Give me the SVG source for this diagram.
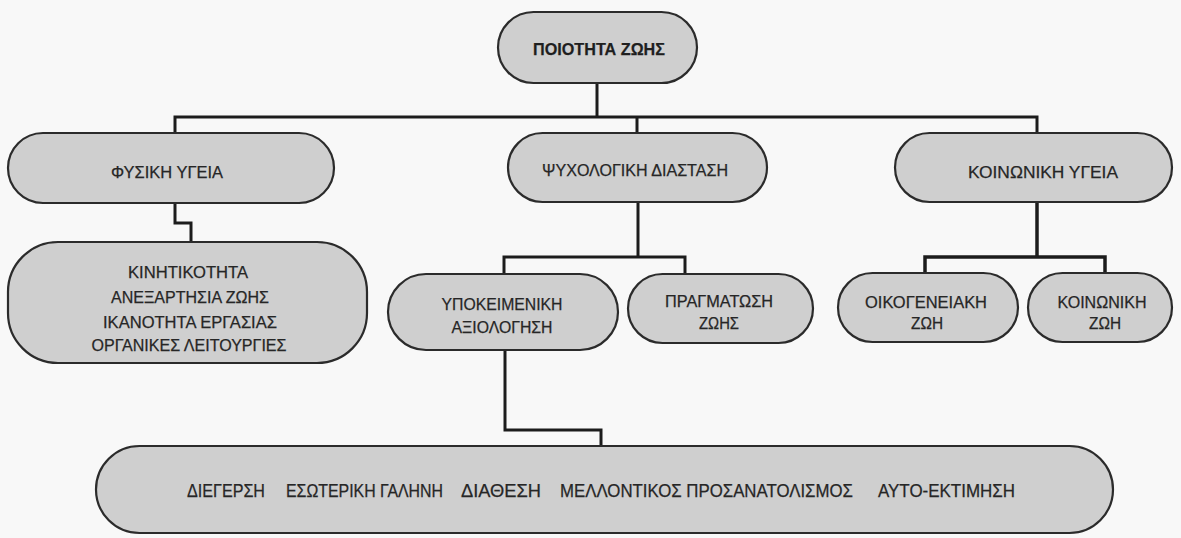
<svg xmlns="http://www.w3.org/2000/svg" width="1181" height="538" viewBox="0 0 1181 538">
<style>
.box{fill:#cfcfcf;stroke:#2b2b2b;stroke-width:2.2}
.t{font-family:"Liberation Sans",Arial,sans-serif;font-size:17px;fill:#262626;text-anchor:middle;stroke:#262626;stroke-width:0.25}
.b{font-weight:bold;fill:#1e1e1e}
.s{text-anchor:start;font-size:18px}
.c{fill:none;stroke:#1c1c1c;stroke-width:3;stroke-linejoin:miter;stroke-linecap:square}
</style>
<rect x="0" y="0" width="1181" height="538" fill="#f8f8f8"/>
<g id="connectors">
<path class="c" d="M597 83 V117 M175 117 H1037 M175 117 V133 M637 117 V133 M1037 117 V133"/>
<path class="c" d="M175 203 V223 H191 V242"/>
<path class="c" d="M638 202 V257 M504 257 H685 M504 257 V274 M685 257 V274"/>
<path class="c" d="M1037 202 V257 M925 257 H1105 M925 257 V273 M1105 257 V273" style="stroke-width:3.5"/>
<path class="c" d="M505 350 V430 H601 V446"/>
</g>
<g id="n-poiotita">
<rect class="box" x="498" y="12" width="199" height="71" rx="35.5"/>
<text class="t b" x="599" y="55" textLength="132" lengthAdjust="spacingAndGlyphs">ΠΟΙΟΤΗΤΑ ΖΩΗΣ</text>
</g>
<g id="n-fysiki">
<rect class="box" x="8" y="133" width="326" height="70" rx="35"/>
<text class="t" x="167" y="178" textLength="112" lengthAdjust="spacingAndGlyphs">ΦΥΣΙΚΗ ΥΓΕΙΑ</text>
</g>
<g id="n-psyx">
<rect class="box" x="508" y="133" width="259" height="69" rx="34.5"/>
<text class="t" x="635" y="176" textLength="186" lengthAdjust="spacingAndGlyphs">ΨΥΧΟΛΟΓΙΚΗ ΔΙΑΣΤΑΣΗ</text>
</g>
<g id="n-koin-ygeia">
<rect class="box" x="895" y="133" width="277" height="69" rx="34.5"/>
<text class="t" x="1043" y="178" textLength="150" lengthAdjust="spacingAndGlyphs">ΚΟΙΝΩΝΙΚΗ ΥΓΕΙΑ</text>
</g>
<g id="n-kinitikotita">
<rect class="box" x="8" y="242" width="359" height="121" rx="50"/>
<text class="t" x="188" y="278" textLength="120" lengthAdjust="spacingAndGlyphs">ΚΙΝΗΤΙΚΟΤΗΤΑ</text>
<text class="t" x="190" y="303" textLength="158" lengthAdjust="spacingAndGlyphs">ΑΝΕΞΑΡΤΗΣΙΑ ΖΩΗΣ</text>
<text class="t" x="190" y="328" textLength="174" lengthAdjust="spacingAndGlyphs">ΙΚΑΝΟΤΗΤΑ ΕΡΓΑΣΙΑΣ</text>
<text class="t" x="189" y="351" textLength="195" lengthAdjust="spacingAndGlyphs">ΟΡΓΑΝΙΚΕΣ ΛΕΙΤΟΥΡΓΙΕΣ</text>
</g>
<g id="n-ypokeimeniki">
<rect class="box" x="388" y="274" width="230" height="76" rx="38"/>
<text class="t" x="502" y="310" textLength="121" lengthAdjust="spacingAndGlyphs">ΥΠΟΚΕΙΜΕΝΙΚΗ</text>
<text class="t" x="502" y="333" textLength="101" lengthAdjust="spacingAndGlyphs">ΑΞΙΟΛΟΓΗΣΗ</text>
</g>
<g id="n-pragmatosi">
<rect class="box" x="628" y="274" width="185" height="69" rx="34.5"/>
<text class="t" x="719" y="307" textLength="108" lengthAdjust="spacingAndGlyphs">ΠΡΑΓΜΑΤΩΣΗ</text>
<text class="t" x="719" y="329" textLength="40" lengthAdjust="spacingAndGlyphs">ΖΩΗΣ</text>
</g>
<g id="n-oikogeneiaki">
<rect class="box" x="838" y="273" width="180" height="69" rx="34.5"/>
<text class="t" x="926" y="308" textLength="122" lengthAdjust="spacingAndGlyphs">ΟΙΚΟΓΕΝΕΙΑΚΗ</text>
<text class="t" x="927" y="329" textLength="32" lengthAdjust="spacingAndGlyphs">ΖΩΗ</text>
</g>
<g id="n-koinoniki-zoi">
<rect class="box" x="1028" y="273" width="144" height="69" rx="34.5"/>
<text class="t" x="1102" y="308" textLength="89" lengthAdjust="spacingAndGlyphs">ΚΟΙΝΩΝΙΚΗ</text>
<text class="t" x="1105" y="329" textLength="32" lengthAdjust="spacingAndGlyphs">ΖΩΗ</text>
</g>
<g id="n-bottom">
<rect class="box" x="96" y="446" width="1017" height="87" rx="43.5"/>
<text class="t s" x="187" y="497" textLength="78" lengthAdjust="spacingAndGlyphs">ΔΙΕΓΕΡΣΗ</text>
<text class="t s" x="286" y="497" textLength="157" lengthAdjust="spacingAndGlyphs">ΕΣΩΤΕΡΙΚΗ ΓΑΛΗΝΗ</text>
<text class="t s" x="461" y="497" textLength="80" lengthAdjust="spacingAndGlyphs">ΔΙΑΘΕΣΗ</text>
<text class="t s" x="560" y="497" textLength="293" lengthAdjust="spacingAndGlyphs">ΜΕΛΛΟΝΤΙΚΟΣ ΠΡΟΣΑΝΑΤΟΛΙΣΜΟΣ</text>
<text class="t s" x="878" y="497" textLength="137" lengthAdjust="spacingAndGlyphs">ΑΥΤΟ-ΕΚΤΙΜΗΣΗ</text>
</g>
</svg>
